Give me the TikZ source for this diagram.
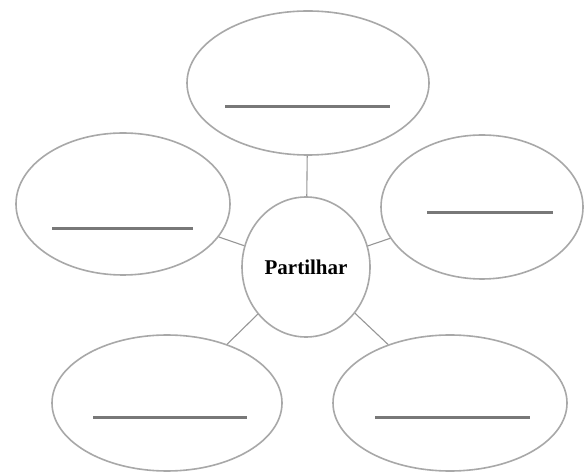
\documentclass[tikz,border=0pt]{standalone}
\usepackage{fontspec}
\setmainfont{Liberation Serif}
\usetikzlibrary{shapes.geometric,calc}
\definecolor{outl}{HTML}{A8A8A8}
\definecolor{blankc}{HTML}{787878}
\begin{document}
\begin{tikzpicture}[x=0.5pt,y=-0.5pt,
  bubble/.style={ellipse,draw=outl,line width=0.8pt,inner sep=0pt},
  link/.style={draw=outl!90!black,line width=0.55pt},
  blankline/.style={draw=blankc,line width=1.5pt}]
\useasboundingbox[fill=white] (0,0) rectangle (587,474);
\node[bubble,minimum width=242pt*0.5,minimum height=144pt*0.5] (t) at (308,83) {};
\node[bubble,minimum width=214pt*0.5,minimum height=142pt*0.5] (l) at (123,204) {};
\node[bubble,minimum width=202pt*0.5,minimum height=144pt*0.5] (r) at (482,207) {};
\node[bubble,minimum width=230pt*0.5,minimum height=136pt*0.5] (bl) at (167,403) {};
\node[bubble,minimum width=234pt*0.5,minimum height=136pt*0.5] (br) at (450,403) {};
\node[bubble,minimum width=128pt*0.5,minimum height=140pt*0.5,font=\bfseries\fontsize{10.5}{12}\selectfont] (c) at (306,267) {Partilhar};
\draw[link] (c) -- (t);
\draw[link] (c) -- (l);
\draw[link] (c) -- (r);
\draw[link] (c) -- (bl);
\draw[link] (c) -- (br);
\draw[blankline] ($(t)+(-83,24)$) -- ($(t)+(82,24)$);
\draw[blankline] ($(l)+(-71,25)$) -- ($(l)+(70,25)$);
\draw[blankline] ($(r)+(-55,6)$) -- ($(r)+(71,6)$);
\draw[blankline] ($(bl)+(-74,14)$) -- ($(bl)+(80,14)$);
\draw[blankline] ($(br)+(-75,14)$) -- ($(br)+(80,14)$);
\end{tikzpicture}
\end{document}
